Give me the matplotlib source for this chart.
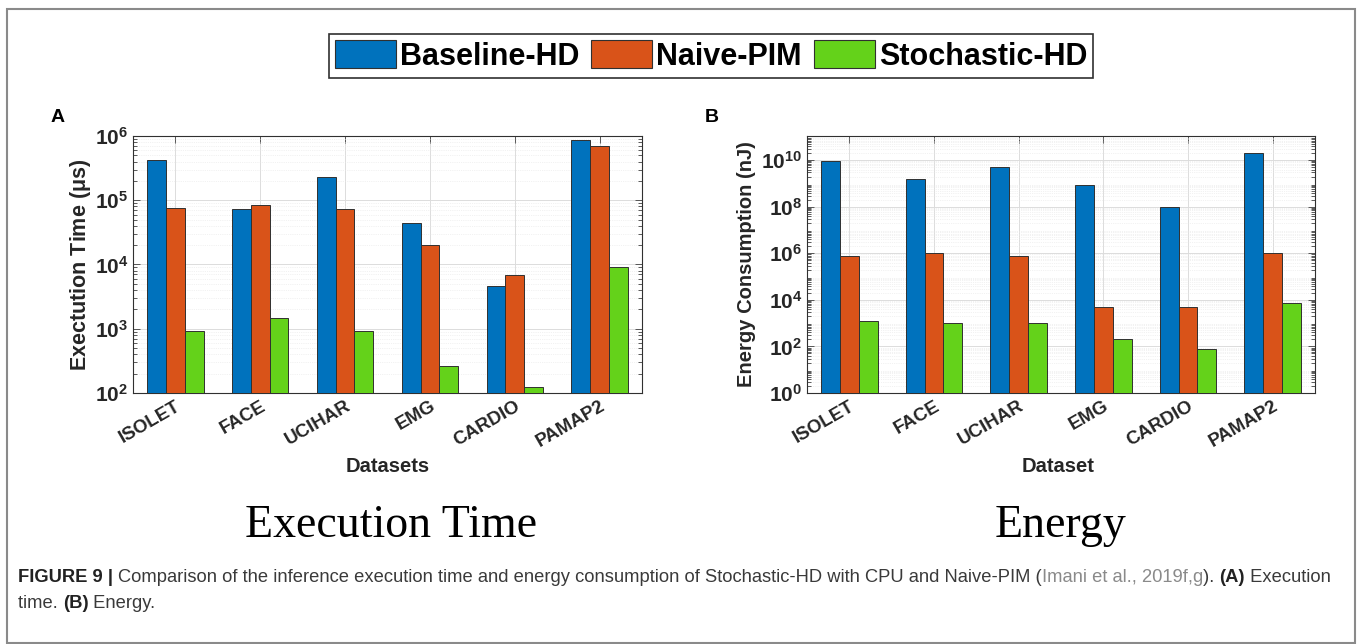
import numpy as np
import matplotlib.pyplot as plt
from matplotlib.patches import Patch, Rectangle
from matplotlib.ticker import LogLocator, NullFormatter, FixedLocator

plt.rcParams['font.family'] = ['Liberation Sans', 'DejaVu Sans']
plt.rcParams['mathtext.fontset'] = 'custom'
plt.rcParams['mathtext.rm'] = 'Liberation Sans:bold'
plt.rcParams['mathtext.bf'] = 'Liberation Sans:bold'
plt.rcParams['mathtext.it'] = 'Liberation Sans:italic:bold'
plt.rcParams['mathtext.default'] = 'rm'

# data
datasets = ["ISOLET", "FACE", "UCIHAR", "EMG", "CARDIO", "PAMAP2"]
series = ["Baseline-HD", "Naive-PIM", "Stochastic-HD"]
colors = ["#0072BD", "#D95319", "#64D21A"]

base_time = [4.2e5, 7.2e4, 2.3e5, 4.4e4, 4.6e3, 8.7e5]
pim_time = [7.5e4, 8.4e4, 7.3e4, 2.0e4, 6.9e3, 6.9e5]
stoch_time = [930, 1470, 930, 265, 125, 9300]

base_energy = [9e9, 1.5e9, 5e9, 9e8, 1e8, 2e10]
pim_energy = [8e5, 1e6, 8e5, 5e3, 5e3, 1e6]
stoch_energy = [1.2e3, 1e3, 1e3, 2e2, 80, 7.5e3]

W, H = 1360, 644
fig = plt.figure(figsize=(W / 100, H / 100), dpi=100)


def px(x, y):
    return x / W, 1 - y / H


def make_panel(rect, vals, ylim, yticks, ylabel, lsize):
    ax = fig.add_axes(rect)
    x = np.arange(1, len(datasets) + 1)
    w = 0.222
    for k, v in enumerate(vals):
        ax.bar(x + (k - 1) * w, np.array(v) - ylim[0], w, bottom=ylim[0],
               color=colors[k], edgecolor="#303030", linewidth=0.7, zorder=3)
    ax.set_yscale("log")
    ax.set_ylim(*ylim)
    ax.set_xlim(0.5, 6.5)
    ax.set_xticks(x)
    ax.set_xticklabels(datasets, rotation=30, ha="right", va="top",
                       rotation_mode="anchor", fontsize=13.5, fontweight="bold",
                       color="#262626")
    ax.yaxis.set_major_locator(FixedLocator(yticks))
    ax.yaxis.set_minor_locator(LogLocator(base=10, subs=np.arange(2, 10), numticks=100))
    ax.yaxis.set_minor_formatter(NullFormatter())
    ax.tick_params(axis="y", labelsize=15, colors="#262626")
    plt.setp(ax.get_yticklabels(), fontweight="bold")
    ax.tick_params(direction="in", which="both", top=True, right=True,
                   length=5, width=0.6, color="#404040")
    ax.tick_params(which="minor", length=3)
    ax.grid(which="major", color="#dcdcdc", linewidth=0.7, zorder=0)
    ax.grid(which="minor", axis="y", color="#e6e6e6", linewidth=0.5,
            linestyle=":", zorder=0)
    ax.set_axisbelow(True)
    for s in ax.spines.values():
        s.set_color("#303030")
        s.set_linewidth(0.8)
    ax.set_ylabel(ylabel, fontsize=lsize, fontweight="bold", color="#262626")
    return ax


axA = make_panel([133 / W, 1 - 393 / H, (642 - 133) / W, (393 - 136) / H],
                 [base_time, pim_time, stoch_time], (1e2, 1e6),
                 [1e2, 1e3, 1e4, 1e5, 1e6], r"Exectution Time ($\mu$s)", 15.5)
axB = make_panel([807 / W, 1 - 393 / H, (1315 - 807) / W, (393 - 136) / H],
                 [base_energy, pim_energy, stoch_energy], (1e0, 1.1e11),
                 [1e0, 1e2, 1e4, 1e6, 1e8, 1e10], "Energy Consumption (nJ)", 14.5)
axA.yaxis.set_label_coords(-0.078, 0.5)
axB.yaxis.set_label_coords(-0.1, 0.5)

fig.text(*px(388, 467), "Datasets", ha="center", va="center", fontsize=14.5,
         fontweight="bold", color="#262626")
fig.text(*px(1058, 467), "Dataset", ha="center", va="center", fontsize=14.5,
         fontweight="bold", color="#262626")
fig.text(*px(58, 118), "A", ha="center", va="center", fontsize=14, fontweight="bold")
fig.text(*px(712, 118), "B", ha="center", va="center", fontsize=14, fontweight="bold")

fig.text(*px(391, 526), "Execution Time", ha="center", va="center", fontsize=33,
         family="Liberation Serif")
fig.text(*px(1060, 526), "Energy", ha="center", va="center", fontsize=33,
         family="Liberation Serif")

handles = [Patch(facecolor=c, edgecolor="#303030", linewidth=0.8) for c in colors]
leg = fig.legend(handles, series, loc="center", bbox_to_anchor=px(711, 56), ncol=3,
                 prop={"size": 22, "weight": "bold"}, handlelength=2.0,
                 handleheight=1.0, handletextpad=0.12, columnspacing=0.4,
                 borderpad=0.2, borderaxespad=0, fancybox=False,
                 edgecolor="#303030", framealpha=1)
leg.get_frame().set_linewidth(1.2)

# outer frame
fig.patches.append(Rectangle(px(7, 643), (1355 - 7) / W, (643 - 9) / H,
                             transform=fig.transFigure, fill=False,
                             edgecolor="#8a8a8a", linewidth=1.5))

# caption with mixed styles
renderer = fig.canvas.get_renderer()


def caption_line(x0, y0, parts, size=13.2):
    x = x0
    for s, weight, color in parts:
        t = fig.text(x / W, 1 - y0 / H, s, fontsize=size, fontweight=weight,
                     color=color, ha="left", va="center")
        x += t.get_window_extent(renderer).width


dark, grey = "#3a3a3a", "#8a8a8a"
caption_line(18, 577, [
    ("FIGURE 9 | ", "bold", "#222222"),
    ("Comparison of the inference execution time and energy consumption of "
     "Stochastic-HD with CPU and Naive-PIM (", "normal", dark),
    ("Imani et al., 2019f,g", "normal", grey),
    ("). ", "normal", dark),
    ("(A)", "bold", "#222222"),
    (" Execution", "normal", dark),
])
caption_line(18, 603, [
    ("time. ", "normal", dark),
    ("(B)", "bold", "#222222"),
    (" Energy.", "normal", dark),
])

fig.savefig("out.png", dpi=100)
